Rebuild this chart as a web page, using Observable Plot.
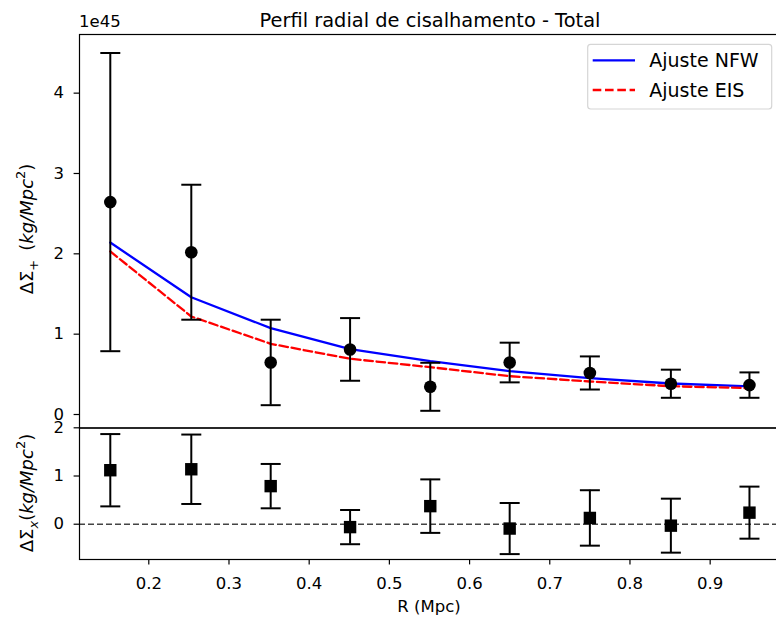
<!DOCTYPE html>
<html>
<head>
<meta charset="utf-8">
<script src="https://cdn.jsdelivr.net/npm/d3@7"></script>
<script src="https://cdn.jsdelivr.net/npm/@observablehq/plot@0.6"></script>
<style>
  body { margin: 0; background: white; }
  #chart { position: relative; width: 776px; height: 621px; overflow: hidden; background: white; }
  #chart svg { position: absolute; left: 0; top: 0; overflow: visible; }
</style>
</head>
<body>
<div id="chart"></div>
<script>
// ---- data (top panel values in units of 1e45 kg/Mpc^2) ----
const R          = [0.152, 0.253, 0.352, 0.451, 0.551, 0.650, 0.750, 0.851, 0.949];
const sigmaT     = [2.644, 2.020, 0.648, 0.810, 0.345, 0.647, 0.517, 0.383, 0.366];
const sigmaTErr  = [1.856, 0.840, 0.532, 0.390, 0.299, 0.247, 0.206, 0.175, 0.158];
const nfwFit     = [2.140, 1.460, 1.075, 0.813, 0.664, 0.539, 0.452, 0.386, 0.349];
const eisFit     = [2.030, 1.220, 0.880, 0.694, 0.589, 0.477, 0.411, 0.352, 0.328];
const sigmaX     = [1.12, 1.14, 0.79, -0.06, 0.375, -0.09, 0.13, -0.03, 0.24];
const sigmaXErr  = [0.75, 0.72, 0.46, 0.355, 0.555, 0.53, 0.575, 0.56, 0.54];
const xTicks       = [0.2, 0.3, 0.4, 0.5, 0.6, 0.7, 0.8, 0.9];
const yTicksTop    = [0, 1, 2, 3, 4];
const yTicksBottom = [0, 1, 2];
const titleText  = "Perfil radial de cisalhamento - Total";
const offsetText = "1e45";
const xLabel     = "R (Mpc)";
const legendLabels = ["Ajuste NFW", "Ajuste EIS"];

const rowsT = R.map((r, i) => ({
  R: r, y: sigmaT[i], lo: sigmaT[i] - sigmaTErr[i], hi: sigmaT[i] + sigmaTErr[i],
  nfw: nfwFit[i], eis: eisFit[i]
}));
const rowsX = R.map((r, i) => ({
  R: r, y: sigmaX[i], lo: sigmaX[i] - sigmaXErr[i], hi: sigmaX[i] + sigmaXErr[i]
}));

const FONT = "DejaVu Sans, sans-serif";
const W = 776, H = 621;
const xDomain = [0.1136, 0.9877];
const capSymbol = { draw(ctx, size) { const r = Math.sqrt(size / Math.PI); ctx.moveTo(-r, 0); ctx.lineTo(r, 0); } };
const baseStyle = { background: "transparent", fontFamily: FONT, fontSize: "16.5px", color: "black", overflow: "visible" };
const axisOpts = { tickSize: 5.4, strokeWidth: 1.2, label: null };
const intFmt = d3.format("d");

const topPlot = Plot.plot({
  width: W, height: H,
  marginLeft: 79, marginRight: -4, marginTop: 34, marginBottom: H - 427.5,
  style: baseStyle,
  x: { domain: xDomain, axis: null },
  y: { domain: [-0.168, 4.73], axis: null },
  marks: [
    Plot.line(rowsT, { x: "R", y: "nfw", stroke: "blue", strokeWidth: 2.3 }),
    Plot.line(rowsT, { x: "R", y: "eis", stroke: "red", strokeWidth: 2.3, strokeDasharray: "8.6,3.7" }),
    Plot.ruleX(rowsT, { x: "R", y1: "lo", y2: "hi", stroke: "black", strokeWidth: 2 }),
    Plot.dot(rowsT, { x: "R", y: "hi", symbol: capSymbol, r: 10, stroke: "black", strokeWidth: 2 }),
    Plot.dot(rowsT, { x: "R", y: "lo", symbol: capSymbol, r: 10, stroke: "black", strokeWidth: 2 }),
    Plot.dot(rowsT, { x: "R", y: "y", r: 6.3, fill: "black", stroke: null }),
    Plot.axisY(yTicksTop, { ...axisOpts, tickPadding: 10, tickFormat: intFmt }),
    Plot.frame({ stroke: "black", strokeWidth: 1.2 })
  ]
});

const bottomPlot = Plot.plot({
  width: W, height: H,
  marginLeft: 79, marginRight: -4, marginTop: 427.5, marginBottom: 62,
  style: baseStyle,
  x: { domain: xDomain, axis: null },
  y: { domain: [-0.732, 1.996], axis: null },
  marks: [
    Plot.ruleY([0], { stroke: "#444", strokeWidth: 1.5, strokeDasharray: "6,3" }),
    Plot.ruleX(rowsX, { x: "R", y1: "lo", y2: "hi", stroke: "black", strokeWidth: 2 }),
    Plot.dot(rowsX, { x: "R", y: "hi", symbol: capSymbol, r: 10, stroke: "black", strokeWidth: 2 }),
    Plot.dot(rowsX, { x: "R", y: "lo", symbol: capSymbol, r: 10, stroke: "black", strokeWidth: 2 }),
    Plot.dot(rowsX, { x: "R", y: "y", symbol: "square", r: 7, fill: "black", stroke: null }),
    Plot.axisY(yTicksBottom, { ...axisOpts, tickPadding: 10, tickFormat: intFmt }),
    Plot.axisX(xTicks, { ...axisOpts, tickPadding: 12.3, tickFormat: d3.format(".1f") }),
    Plot.frame({ stroke: "black", strokeWidth: 1.2 })
  ]
});

const chart = document.getElementById("chart");
chart.appendChild(bottomPlot);
chart.appendChild(topPlot);

// ---- texts ----
const ts = d3.select(topPlot);
ts.append("text").attr("x", 430).attr("y", 27).attr("text-anchor", "middle")
  .attr("font-family", FONT).attr("font-size", 19.4).attr("fill", "black").text(titleText);
ts.append("text").attr("x", 79).attr("y", 27).attr("text-anchor", "start")
  .attr("font-family", FONT).attr("font-size", 16.5).attr("fill", "black").text(offsetText);

function mathLabel(sel, x, y, subText, gap) {
  const t = sel.append("text").attr("transform", `translate(${x},${y}) rotate(-90)`)
    .attr("text-anchor", "middle").attr("font-family", FONT).attr("font-size", 18).attr("fill", "black");
  t.append("tspan").text("ΔΣ");
  t.append("tspan").attr("font-size", 13).attr("dy", 4.5).attr("font-style", subText === "x" ? "italic" : "normal").text(subText);
  t.append("tspan").attr("dy", -4.5).text((gap ? "\u2002" : "") + "(");
  t.append("tspan").attr("font-style", "italic").text("kg/Mpc");
  t.append("tspan").attr("font-size", 13).attr("dy", -8).text("2");
  t.append("tspan").attr("dy", 8).text(")");
}
mathLabel(ts, 33, 229, "+", true);
const bs = d3.select(bottomPlot);
mathLabel(bs, 33, 493, "x", false);
bs.append("text").attr("x", 429).attr("y", 612).attr("text-anchor", "middle")
  .attr("font-family", FONT).attr("font-size", 16.5).attr("fill", "black").text(xLabel);

// ---- legend ----
const lg = ts.append("g");
lg.append("rect").attr("x", 587.7).attr("y", 44.3).attr("width", 184).attr("height", 64.7).attr("rx", 3)
  .attr("fill", "white").attr("fill-opacity", 0.8).attr("stroke", "#d5d5d5").attr("stroke-width", 1.2);
[["blue", null], ["red", "8.6,3.7"]].forEach(([c, dash], i) => {
  const yy = 60.3 + i * 29.7;
  lg.append("line").attr("x1", 592.7).attr("x2", 635).attr("y1", yy).attr("y2", yy)
    .attr("stroke", c).attr("stroke-width", 2.3).attr("stroke-dasharray", dash);
  lg.append("text").attr("x", 649.3).attr("y", yy + 6.5).attr("text-anchor", "start")
    .attr("font-family", FONT).attr("font-size", 19)
    .attr("fill", "black").text(legendLabels[i]);
});
</script>
</body>
</html>
